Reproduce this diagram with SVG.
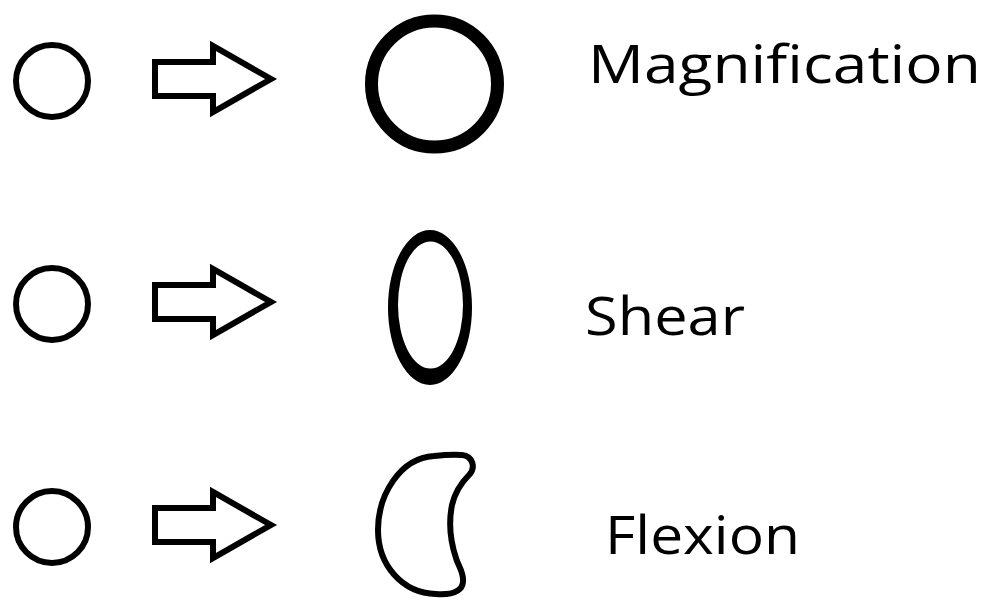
<svg xmlns="http://www.w3.org/2000/svg" width="995" height="601" viewBox="0 0 995 601">
<style>
.src{fill:none;stroke:#000;stroke-width:6}
.arr{fill:#fff;stroke:#000;stroke-width:6;stroke-linejoin:miter;stroke-miterlimit:10}
.lbl{font-family:"Open Sans","Noto Sans","Liberation Sans",sans-serif;font-size:53px;fill:#000}
</style>
<rect width="995" height="601" fill="#fff"/>
<defs>
<path id="arrow" d="M155,-19 H213 V-35 L271,-2 L213,31 V15 H155 Z"/>
</defs>
<g id="row-magnification">
<circle class="src" cx="52" cy="81" r="36"/>
<use href="#arrow" class="arr" transform="translate(0,81)"/>
<circle cx="434.5" cy="84" r="63" fill="none" stroke="#000" stroke-width="13"/>
<text class="lbl" x="588" y="83" textLength="393" lengthAdjust="spacingAndGlyphs">Magnification</text>
</g>
<g id="row-shear">
<circle class="src" cx="52" cy="304" r="36"/>
<use href="#arrow" class="arr" transform="translate(0,304)"/>
<path fill="#000" fill-rule="evenodd" d="M388,307.5 A42,77.5 0 1 0 472,307.5 A42,77.5 0 1 0 388,307.5 Z M398,305 A32.5,63.5 0 1 0 463,305 A32.5,63.5 0 1 0 398,305 Z"/>
<text class="lbl" x="585" y="335" textLength="160" lengthAdjust="spacingAndGlyphs">Shear</text>
</g>
<g id="row-flexion">
<circle class="src" cx="52" cy="527" r="36"/>
<use href="#arrow" class="arr" transform="translate(0,527)"/>
<path class="src" stroke-linejoin="round" d="M434,456 C400,458 378,495 378,530 C378,565 402,593 436,594 C452,595 462,592 463,582 C464,572 458,566 456,558 C450,540 449,520 452,505 C455,492 462,482 469,475 C476,468 473,456 462,455 C452,454 443,455 434,456 Z"/>
<text class="lbl" x="605" y="554" textLength="195" lengthAdjust="spacingAndGlyphs">Flexion</text>
</g>
</svg>
